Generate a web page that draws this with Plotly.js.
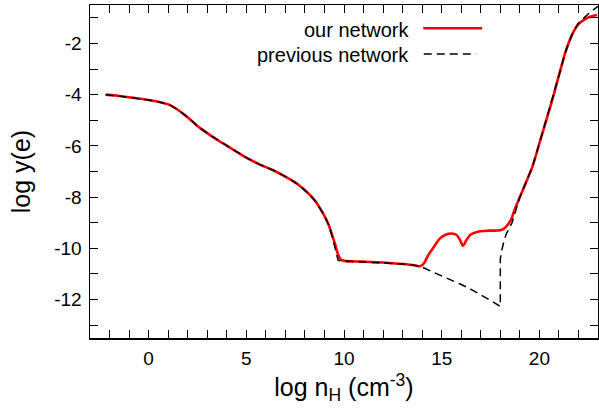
<!DOCTYPE html>
<html>
<head>
<meta charset="utf-8">
<script src="https://cdn.plot.ly/plotly-3.0.1.min.js"></script>
<style>html,body{margin:0;padding:0;background:#fff;}#chart{width:599px;height:410px;}</style>
</head>
<body>
<div id="chart"></div>
<script>
// our network
var ourX = [-2.2,-1.5,-0.8,0,0.5,1.1,1.6,2.1,2.5,3.0,3.5,4.0,4.4,5.0,5.7,6.4,7.0,7.6,8.1,8.5,8.9,9.2,9.4,9.55,9.7,9.85,10.1,11,12,13,13.6,13.9,14.1,14.3,14.55,14.9,15.2,15.5,15.75,15.9,16.0,16.07,16.15,16.25,16.5,16.9,17.4,17.9,18.1,18.3,18.55,18.75,19.0,19.3,19.65,20.0,20.35,20.7,21.0,21.35,21.7,22.0,22.3,22.6,22.95];
var ourY = [-4.00,-4.05,-4.12,-4.21,-4.28,-4.41,-4.65,-4.95,-5.22,-5.50,-5.76,-5.99,-6.18,-6.46,-6.73,-6.96,-7.20,-7.48,-7.80,-8.12,-8.60,-9.05,-9.50,-9.85,-10.25,-10.45,-10.50,-10.52,-10.55,-10.61,-10.66,-10.70,-10.58,-10.28,-10.00,-9.62,-9.47,-9.42,-9.47,-9.62,-9.78,-9.90,-9.85,-9.70,-9.45,-9.34,-9.31,-9.30,-9.27,-9.15,-8.88,-8.45,-8.00,-7.45,-6.80,-5.90,-5.00,-4.10,-3.25,-2.30,-1.62,-1.25,-1.07,-0.96,-0.89];
// previous network
var prevX = [-2.2,-1.5,-0.8,0,0.5,1.1,1.6,2.1,2.5,3.0,3.5,4.0,4.4,5.0,5.7,6.4,7.0,7.6,8.1,8.5,8.9,9.2,9.4,9.55,9.7,9.85,10.1,11,12,13,13.6,13.9,14.5,15.0,15.5,16.0,16.5,17.0,17.5,18.0,18.0,18.05,18.1,18.2,18.3,18.45,18.6,18.8,19.0,19.3,19.65,20.0,20.35,20.7,21.0,21.35,21.7,22.0,22.3,22.6,23.0];
var prevY = [-4.00,-4.05,-4.12,-4.21,-4.28,-4.41,-4.65,-4.95,-5.22,-5.50,-5.76,-5.99,-6.18,-6.46,-6.73,-6.96,-7.20,-7.48,-7.80,-8.12,-8.60,-9.05,-9.55,-10.05,-10.47,-10.49,-10.50,-10.52,-10.55,-10.61,-10.66,-10.70,-10.91,-11.07,-11.23,-11.41,-11.60,-11.81,-12.03,-12.27,-10.42,-10.15,-9.95,-9.68,-9.45,-9.20,-9.00,-8.50,-8.00,-7.45,-6.80,-5.90,-5.00,-4.10,-3.25,-2.30,-1.60,-1.20,-0.98,-0.78,-0.55];
var seriesNames = ['our network', 'previous network'];
var xTickVals = [0, 5, 10, 15, 20];
var xTickText = ['0', '5', '10', '15', '20'];
var yTickVals = [-2, -4, -6, -8, -10, -12];
var yTickText = ['-2', '-4', '-6', '-8', '-10', '-12'];

var font = 'Liberation Sans, Arial, sans-serif';

var traces = [
  {x: ourX, y: ourY, mode: 'lines', name: seriesNames[0], showlegend: false,
   line: {color: '#ff0000', width: 2.6, shape: 'spline', smoothing: 0.7}},
  {x: prevX, y: prevY, mode: 'lines', name: seriesNames[1], showlegend: false,
   line: {color: '#000', width: 1.5, dash: '8px,5px'}}
];

var axisCommon = {
  showline: true, linecolor: '#000', linewidth: 1.5, mirror: 'allticks',
  ticks: 'inside', ticklen: 8, tickcolor: '#000', tickwidth: 1,
  showgrid: false, zeroline: false,
  tickfont: {family: font, size: 19, color: '#000'}
};

var layout = {
  width: 599, height: 410,
  margin: {l: 90, r: 1, t: 5, b: 72},
  paper_bgcolor: '#fff', plot_bgcolor: '#fff',
  font: {family: font, color: '#000'},
  xaxis: Object.assign({}, axisCommon, {
    range: [-3, 23], tickmode: 'array', tickvals: xTickVals, ticktext: xTickText,
    ticklabelstandoff: 3,
    minor: {dtick: 1, tick0: 0, ticks: 'inside', ticklen: 8, tickcolor: '#000', tickwidth: 1, showgrid: false},
    title: {text: 'log n<sub>H</sub> (cm<sup>-3</sup>)', font: {family: font, size: 25, color: '#000'}, standoff: 10}
  }),
  yaxis: Object.assign({}, axisCommon, {
    range: [-13.5, -0.5], tickmode: 'array', tickvals: yTickVals, ticktext: yTickText,
    ticklabelstandoff: 3,
    minor: {dtick: 1, tick0: 0, ticks: 'inside', ticklen: 8, tickcolor: '#000', tickwidth: 1, showgrid: false},
    title: {text: 'log y(e)', font: {family: font, size: 25, color: '#000'}, standoff: 16}
  }),
  showlegend: false,
  annotations: [
    {xref: 'paper', yref: 'paper', x: 0.632, y: 0.926, xanchor: 'right', yanchor: 'middle',
     text: seriesNames[0], showarrow: false, font: {family: font, size: 20, color: '#000'}},
    {xref: 'paper', yref: 'paper', x: 0.632, y: 0.851, xanchor: 'right', yanchor: 'middle',
     text: seriesNames[1], showarrow: false, font: {family: font, size: 20, color: '#000'}}
  ],
  shapes: [
    {type: 'line', xref: 'paper', yref: 'paper', x0: 0.656, x1: 0.772, y0: 0.930, y1: 0.930,
     line: {color: '#ff0000', width: 2.6}},
    {type: 'line', xref: 'paper', yref: 'paper', x0: 0.657, x1: 0.760, y0: 0.853, y1: 0.853,
     line: {color: '#000', width: 1.5, dash: '8px,5px'}}
  ]
};

Plotly.newPlot('chart', traces, layout, {staticPlot: true, displayModeBar: false});
</script>
</body>
</html>
